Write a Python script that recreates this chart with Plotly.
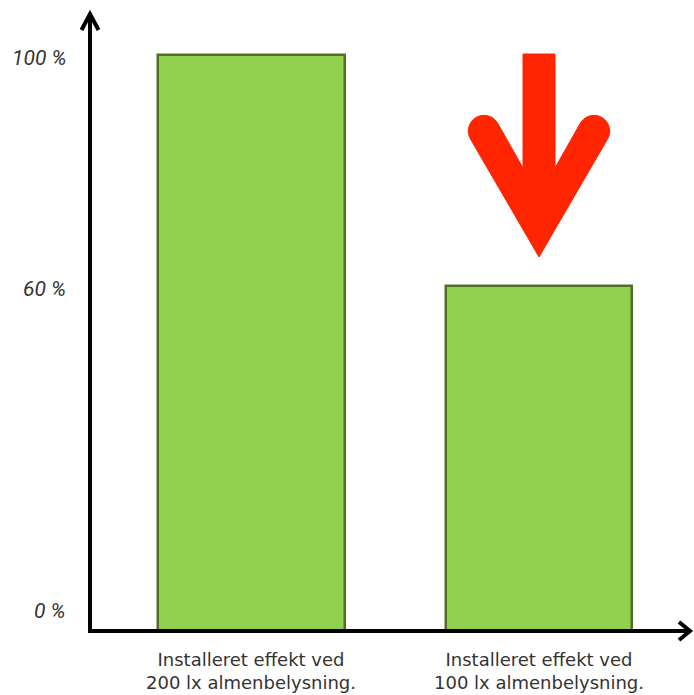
import math
import plotly.graph_objects as go

# ---- data ----
categories = ["Installeret effekt ved<br>200 lx almenbelysning.",
              "Installeret effekt ved<br>100 lx almenbelysning."]
values = [100, 60]
y_tick_values = [0, 60, 100]
y_tick_labels = ["0 %", "60 %", "100 %"]

W, H = 694, 695
ML, MR, MT, MB = 90, 0, 12, 63
plot_w = W - ML - MR
plot_h = H - MT - MB
x_range = [-0.5617, 1.5391]
y_range = [0, 107.45]

def px_x(d):  # data x -> pixel
    return ML + (d - x_range[0]) / (x_range[1] - x_range[0]) * plot_w

def dx(px):  # pixel -> data x
    return x_range[0] + (px - ML) / plot_w * (x_range[1] - x_range[0])

def dy(py):  # pixel -> data y
    return y_range[0] + (H - MB - py) / plot_h * (y_range[1] - y_range[0])

def ppx(px):
    return (px - ML) / plot_w

def ppy(py):
    return (H - MB - py) / plot_h

fig = go.Figure()
fig.add_trace(go.Bar(
    x=[0, 1], y=values, width=0.65,
    marker=dict(color="#92D050", line=dict(color="#526d24", width=2.5)),
    hoverinfo="skip",
))

shapes = []
axis_col = "#000000"
# y axis
shapes.append(dict(type="line", xref="paper", yref="paper",
                   x0=ppx(90), y0=ppy(633), x1=ppx(90), y1=ppy(13),
                   line=dict(color=axis_col, width=4)))
shapes.append(dict(type="path", xref="paper", yref="paper",
                   path=f"M{ppx(81.5)},{ppy(30)} L{ppx(90)},{ppy(14)} L{ppx(98.5)},{ppy(30)}",
                   line=dict(color=axis_col, width=4)))
# x axis
shapes.append(dict(type="line", xref="paper", yref="paper",
                   x0=ppx(88), y0=ppy(631), x1=ppx(690), y1=ppy(631),
                   line=dict(color=axis_col, width=4)))
shapes.append(dict(type="path", xref="paper", yref="paper",
                   path=f"M{ppx(679)},{ppy(622)} L{ppx(690)},{ppy(631)} L{ppx(679)},{ppy(640)}",
                   line=dict(color=axis_col, width=4)))

# red down arrow above the second bar (built in pixel space)
cx = px_x(1)
half = 16
tip = (cx, 257)
pts = [tip]
def arc(center, r, a0, a1, n=14):
    out = []
    for i in range(n + 1):
        a = a0 + (a1 - a0) * i / n
        out.append((center[0] + r * math.cos(a), center[1] + r * math.sin(a)))
    return out
lc = (cx - 55, 131)
perp = (-0.865, 0.502)
ang_out = math.atan2(perp[1], perp[0])
pts += arc(lc, 15.7, ang_out, ang_out + math.pi)
pts += [(cx - half, 168), (cx - half, 54), (cx + half, 54), (cx + half, 168)]
rc = (cx + 55, 131)
perp_r = (-0.865, -0.502)
ang_in = math.atan2(perp_r[1], perp_r[0])
pts += arc(rc, 15.7, ang_in, ang_in + math.pi)
path = "M" + " L".join(f"{dx(p[0]):.5f},{dy(p[1]):.4f}" for p in pts) + " Z"
shapes.append(dict(type="path", xref="x", yref="y", path=path,
                   fillcolor="#FF2500", line=dict(color="#FF2500", width=1)))

annotations = []
for v, t in zip(y_tick_values, y_tick_labels):
    annotations.append(dict(x=ppx(68), xref="paper", y=v, yref="y",
                            text="<i>" + t + "</i>", showarrow=False,
                            xanchor="right", yanchor="middle",
                            yshift=21 if v == 0 else -3,
                            font=dict(family="Roboto", size=21, color="#333333")))

# category labels (two lines each) below the bars
for i, cat in enumerate(categories):
    annotations.append(dict(x=i, xref="x", y=ppy(648), yref="paper",
                            text=cat, showarrow=False, xanchor="center",
                            yanchor="top", borderpad=0,
                            font=dict(family="DejaVu Sans", size=18, color="#333333")))

fig.update_layout(
    width=W, height=H,
    margin=dict(l=ML, r=MR, t=MT, b=MB, autoexpand=False),
    paper_bgcolor="white", plot_bgcolor="white",
    showlegend=False,
    shapes=shapes,
    annotations=annotations,
    xaxis=dict(range=x_range, showgrid=False, zeroline=False, showline=False,
               showticklabels=False, ticks="", fixedrange=True),
    yaxis=dict(range=y_range, showgrid=False, zeroline=False, showline=False,
               showticklabels=False, ticks="", fixedrange=True),
    bargap=0,
)
fig.write_html("out.html")
